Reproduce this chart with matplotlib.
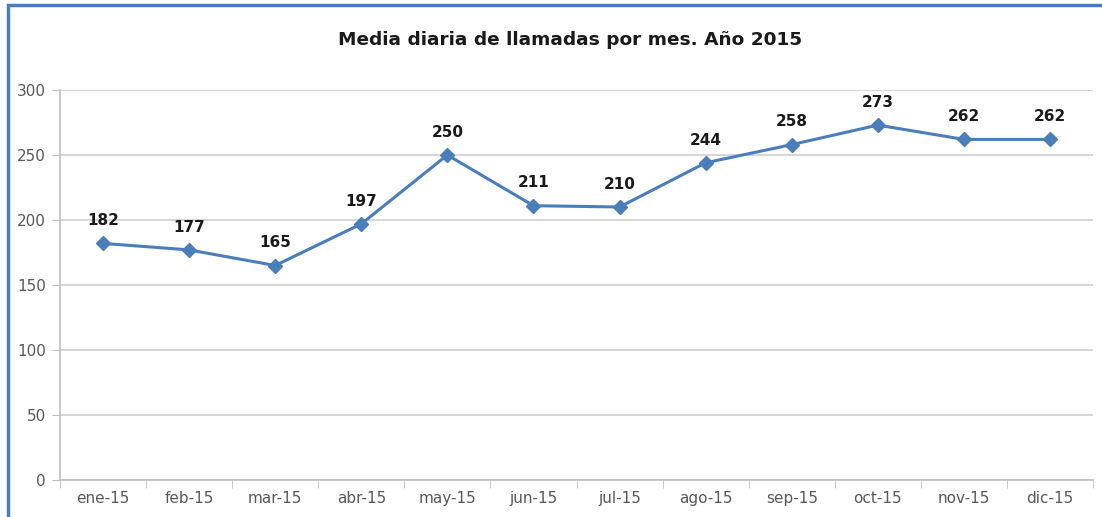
import matplotlib.pyplot as plt
from matplotlib.patches import Rectangle
import numpy as np

months = ["ene-15", "feb-15", "mar-15", "abr-15", "may-15", "jun-15",
          "jul-15", "ago-15", "sep-15", "oct-15", "nov-15", "dic-15"]
calls = [182, 177, 165, 197, 250, 211, 210, 244, 258, 273, 262, 262]

plt.rcParams["font.family"] = ["DejaVu Sans"]
blue = "#4a7ebb"
grey = "#595959"

fig = plt.figure(figsize=(11.02, 5.17), dpi=100)
ax = fig.add_axes([60 / 1102, 1 - 480 / 517, (1093 - 60) / 1102, (480 - 90) / 517])

x = np.arange(len(months))
ax.plot(x, calls, color=blue, linewidth=2.2, marker="D", markersize=7)
for xi, v in zip(x, calls):
    ax.annotate(str(v), (xi, v), xytext=(0, 11), textcoords="offset points",
                ha="center", va="bottom", fontsize=11, fontweight="bold",
                color="#1a1a1a")

ax.set_xlim(-0.5, len(months) - 0.5)
ax.set_ylim(0, 300)
ax.set_yticks(range(0, 301, 50))
ax.set_xticks(x)
ax.set_xticklabels(months)
ax.set_xticks(np.arange(-0.5, len(months)), minor=True)
ax.tick_params(axis="x", which="major", length=0, pad=8, labelsize=11, labelcolor=grey)
ax.tick_params(axis="x", which="minor", length=6, color="#bfbfbf", direction="out")
ax.tick_params(axis="y", length=6, color="#bfbfbf", labelsize=11, labelcolor=grey, pad=4)

ax.grid(axis="y", color="#d0d0d0", linewidth=1.2)
ax.set_axisbelow(True)
for side in ["top", "right"]:
    ax.spines[side].set_visible(False)
for side in ["left", "bottom"]:
    ax.spines[side].set_color("#bfbfbf")
    ax.spines[side].set_linewidth(1.2)

fig.text(570 / 1102, 1 - 40 / 517, "Media diaria de llamadas por mes. Año 2015",
         ha="center", va="center", fontsize=13.3, fontweight="bold", color="#1a1a1a")

fig.patches.append(Rectangle((8 / 1102, -0.05), 1.2, 1 - 5 / 517 + 0.05,
                             transform=fig.transFigure, fill=False,
                             edgecolor=blue, linewidth=2.5))

fig.savefig("out.png", dpi=100)
